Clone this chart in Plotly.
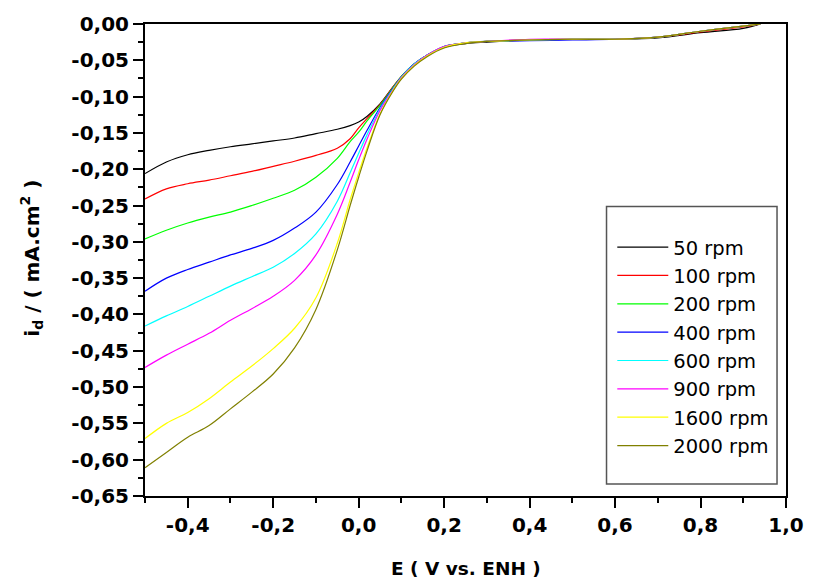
import plotly.graph_objects as go

# Potential sweep (V vs. ENH)
E = [-0.50, -0.45, -0.40, -0.35, -0.30, -0.25, -0.20, -0.15, -0.10, -0.05,
     -0.02, 0.00, 0.02, 0.05, 0.08, 0.10, 0.13, 0.16, 0.20, 0.25,
     0.30, 0.40, 0.50, 0.60, 0.70, 0.80, 0.90, 0.94]

# Disk current density (mA.cm^-2) for each rotation rate
i_50 = [-0.206, -0.190, -0.180, -0.174, -0.169, -0.165, -0.161, -0.157, -0.151, -0.145,
        -0.140, -0.135, -0.127, -0.110, -0.087, -0.073, -0.055, -0.043, -0.032, -0.027,
        -0.025, -0.022, -0.021, -0.021, -0.019, -0.012, -0.006, 0.000]
i_100 = [-0.241, -0.227, -0.220, -0.215, -0.209, -0.203, -0.196, -0.189, -0.181, -0.171,
         -0.158, -0.143, -0.130, -0.111, -0.087, -0.072, -0.055, -0.043, -0.031, -0.026,
         -0.024, -0.022, -0.021, -0.021, -0.018, -0.011, -0.004, 0.000]
i_200 = [-0.296, -0.284, -0.274, -0.266, -0.259, -0.250, -0.240, -0.229, -0.211, -0.185,
         -0.162, -0.149, -0.133, -0.112, -0.088, -0.072, -0.055, -0.043, -0.031, -0.026,
         -0.024, -0.022, -0.021, -0.021, -0.018, -0.010, -0.003, 0.000]
i_400 = [-0.368, -0.350, -0.338, -0.328, -0.318, -0.309, -0.298, -0.281, -0.259, -0.221,
         -0.190, -0.168, -0.146, -0.115, -0.089, -0.073, -0.055, -0.043, -0.031, -0.026,
         -0.024, -0.023, -0.022, -0.021, -0.018, -0.010, -0.003, 0.000]
i_600 = [-0.416, -0.402, -0.389, -0.375, -0.361, -0.348, -0.335, -0.316, -0.289, -0.244,
         -0.205, -0.178, -0.152, -0.117, -0.090, -0.073, -0.055, -0.043, -0.031, -0.026,
         -0.024, -0.022, -0.021, -0.021, -0.018, -0.010, -0.003, 0.000]
i_900 = [-0.473, -0.456, -0.441, -0.426, -0.408, -0.392, -0.375, -0.353, -0.318, -0.262,
         -0.218, -0.187, -0.158, -0.119, -0.091, -0.074, -0.056, -0.043, -0.031, -0.026,
         -0.024, -0.021, -0.021, -0.021, -0.018, -0.010, -0.003, 0.000]
i_1600 = [-0.571, -0.550, -0.535, -0.516, -0.493, -0.471, -0.447, -0.419, -0.377, -0.302,
          -0.242, -0.205, -0.170, -0.124, -0.092, -0.075, -0.057, -0.044, -0.032, -0.026,
          -0.024, -0.022, -0.021, -0.021, -0.018, -0.010, -0.003, 0.000]
i_2000 = [-0.611, -0.590, -0.569, -0.553, -0.530, -0.507, -0.482, -0.446, -0.393, -0.311,
          -0.250, -0.211, -0.174, -0.125, -0.093, -0.076, -0.058, -0.045, -0.033, -0.027,
          -0.024, -0.022, -0.021, -0.021, -0.018, -0.010, -0.003, 0.000]

names = ["50 rpm", "100 rpm", "200 rpm", "400 rpm", "600 rpm", "900 rpm", "1600 rpm", "2000 rpm"]
series = [i_50, i_100, i_200, i_400, i_600, i_900, i_1600, i_2000]
colors = ["#000000", "#ff0000", "#00ff00", "#0000ff", "#00ffff", "#ff00ff", "#ffff00", "#808000"]

x_tickvals = [-0.4, -0.2, 0.0, 0.2, 0.4, 0.6, 0.8, 1.0]
x_ticktext = ["-0,4", "-0,2", "0,0", "0,2", "0,4", "0,6", "0,8", "1,0"]
y_tickvals = [0.00, -0.05, -0.10, -0.15, -0.20, -0.25, -0.30, -0.35,
              -0.40, -0.45, -0.50, -0.55, -0.60, -0.65]
y_ticktext = ["0,00", "-0,05", "-0,10", "-0,15", "-0,20", "-0,25", "-0,30", "-0,35",
              "-0,40", "-0,45", "-0,50", "-0,55", "-0,60", "-0,65"]

fig = go.Figure()
for name, vals, col in zip(names, series, colors):
    fig.add_trace(go.Scatter(
        x=E, y=vals, name=name, mode="lines",
        line=dict(color=col, width=1.2, shape="spline", smoothing=1.0),
    ))

tick_font = dict(family="DejaVu Sans", size=20, color="black", weight="bold")
axis_common = dict(
    showline=True, linewidth=2, linecolor="black", mirror=True,
    ticks="outside", ticklen=10, tickwidth=2, tickcolor="black",
    showgrid=False, zeroline=False, tickfont=tick_font,
)

fig.update_xaxes(
    range=[-0.5, 1.0], tickmode="array", tickvals=x_tickvals, ticktext=x_ticktext,
    minor=dict(ticks="outside", ticklen=5, tickwidth=2, tickcolor="black",
               tick0=-0.5, dtick=0.1, showgrid=False),
    **axis_common,
)
fig.update_yaxes(
    range=[-0.65, 0.0], tickmode="array", tickvals=y_tickvals, ticktext=y_ticktext,
    minor=dict(ticks="outside", ticklen=5, tickwidth=2, tickcolor="black",
               tick0=0.0, dtick=0.025, showgrid=False),
    **axis_common,
)

fig.update_layout(
    width=816, height=585,
    margin=dict(l=145, r=21, t=22, b=89),
    paper_bgcolor="white", plot_bgcolor="white",
    showlegend=True,
    legend=dict(
        x=0.729, y=0.568, xanchor="left", yanchor="top",
        bgcolor="rgba(0,0,0,0)", borderwidth=0, itemwidth=51,
        font=dict(family="DejaVu Sans", size=19.5, color="black"),
        tracegroupgap=0,
    ),
    shapes=[dict(
        type="rect", xref="paper", yref="paper",
        x0=0.72, x1=0.986, y0=0.0253, y1=0.6135,
        line=dict(color="#555555", width=1.5), fillcolor="rgba(0,0,0,0)", layer="below",
    )],
    annotations=[
        dict(text="E ( V vs. ENH )", xref="paper", yref="paper", x=0.5, y=-0.153,
             xanchor="center", yanchor="middle", showarrow=False,
             font=dict(family="DejaVu Sans", size=18.5, color="black", weight="bold")),
        dict(text="i<sub>d</sub> / ( mA.cm<sup>2</sup> )", xref="paper", yref="paper",
             x=-0.177, y=0.504, xanchor="center", yanchor="middle", textangle=-90,
             showarrow=False,
             font=dict(family="DejaVu Sans", size=20, color="black", weight="bold")),
    ],
)

fig.write_html("out.html")
